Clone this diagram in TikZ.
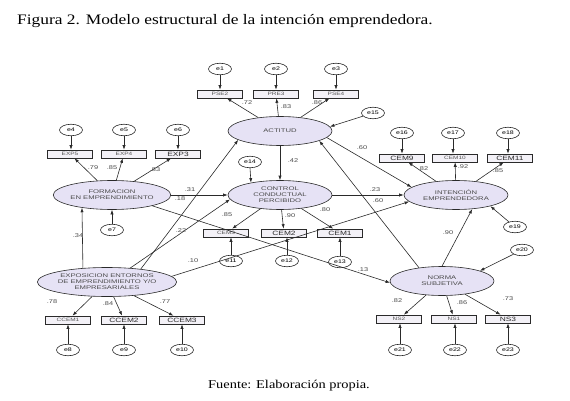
\documentclass[tikz,border=0pt]{standalone}
\usepackage{fontspec}
\setmainfont{Liberation Serif}
\newfontfamily\titlefont[FakeStretch=1.2]{Liberation Serif}
\newfontfamily\nodefont[FakeStretch=1.35]{Liberation Sans}
\newfontfamily\latfont[FakeStretch=1.45]{Liberation Sans}
\usetikzlibrary{arrows.meta,shapes.geometric}
\definecolor{latfill}{HTML}{E6E2F5}
\definecolor{boxfill}{HTML}{F3F1F7}
\definecolor{ink}{HTML}{2A2A2A}
\begin{document}
\begin{tikzpicture}[x=1pt,y=-1pt,
 lat/.style={ellipse, draw=ink, fill=latfill, line width=0.6pt, minimum width=104pt, minimum height=29pt, inner sep=0pt, align=center, font=\latfont\fontsize{5.3}{6}\selectfont, text=ink!85},
 ind/.style={rectangle, draw=ink, fill=boxfill, line width=0.6pt, minimum width=45pt, minimum height=8pt, inner sep=0pt, font=\nodefont\fontsize{4.8}{5}\selectfont, text=ink!80},
 indbig/.style={ind, font=\nodefont\fontsize{6.2}{6.5}\selectfont, text=ink},
 err/.style={ellipse, draw=ink, fill=white, line width=0.6pt, minimum width=23pt, minimum height=11.5pt, inner sep=0pt, font=\nodefont\fontsize{5.2}{5.2}\selectfont},
 lbl/.style={font=\nodefont\fontsize{5.5}{5.5}\selectfont, text=ink!85, inner sep=0pt},
 arr/.style={-{Latex[length=4.5pt,width=3.2pt]}, draw=ink, line width=0.6pt},
]
\path[use as bounding box] (0,0) rectangle (570,401);
% titles
\node[anchor=base west, font=\titlefont\fontsize{14.5}{16}\selectfont, inner sep=0pt] (title) at (17,25) {Figura 2. Modelo estructural de la intención emprendedora.};
\node[anchor=base west, font=\titlefont\fontsize{12}{14}\selectfont, inner sep=0pt] (fuente) at (208,388) {Fuente: Elaboración propia.};

% latent variables
\node[lat] (act) at (280,131) {ACTITUD};
\node[lat] (form) at (112,195) {FORMACION\\EN EMPRENDIMIENTO};
\node[lat] (ctrl) at (280,195) {CONTROL\\CONDUCTUAL\\PERCIBIDO};
\node[lat] (int) at (456,195) {INTENCIÓN\\EMPRENDEDORA};
\node[lat] (norma) at (442,281) {NORMA\\SUBJETIVA};
\node[lat, minimum width=120pt] (expo) at (107,282) {EXPOSICION ENTORNOS\\DE EMPRENDIMIENTO Y/O\\EMPRESARIALES};

% indicators
\node[ind] (pse2) at (220,94) {PSE2};
\node[ind] (pre3) at (276,94) {PRE3};
\node[ind] (pse4) at (336,94) {PSE4};
\node[ind] (exp5) at (70,154) {EXP5};
\node[ind] (exp4) at (124,154) {EXP4};
\node[indbig] (exp3) at (178,154) {EXP3};
\node[ind] (cem3) at (226,233) {CEM3};
\node[indbig] (cem2) at (284,233) {CEM2};
\node[indbig] (cem1) at (340,233) {CEM1};
\node[indbig] (cem9) at (402,158) {CEM9};
\node[ind] (cem10) at (455,158) {CEM10};
\node[indbig] (cem11) at (510,158) {CEM11};
\node[ind] (ns2) at (399,319) {NS2};
\node[ind] (ns1) at (454,319) {NS1};
\node[indbig] (ns3) at (508,319) {NS3};
\node[ind] (ccem1) at (68,320) {CCEM1};
\node[indbig] (ccem2) at (124,320) {CCEM2};
\node[indbig] (ccem3) at (182,320) {CCEM3};

% errors
\node[err] (e1) at (220,69) {e1};
\node[err] (e2) at (276,69) {e2};
\node[err] (e3) at (336,69) {e3};
\node[err] (e4) at (71,130) {e4};
\node[err] (e5) at (124,130) {e5};
\node[err] (e6) at (178,130) {e6};
\node[err] (e7) at (112,230) {e7};
\node[err] (e8) at (68,350) {e8};
\node[err] (e9) at (124,350) {e9};
\node[err] (e10) at (182,350) {e10};
\node[err] (e11) at (231,261) {e11};
\node[err] (e12) at (287,261) {e12};
\node[err] (e13) at (340,262) {e13};
\node[err] (e14) at (250,162) {e14};
\node[err] (e15) at (373,113) {e15};
\node[err] (e16) at (402,133) {e16};
\node[err] (e17) at (453,133) {e17};
\node[err] (e18) at (508,133) {e18};
\node[err] (e19) at (515,227) {e19};
\node[err] (e20) at (522,250) {e20};
\node[err] (e21) at (400,350) {e21};
\node[err] (e22) at (455,350) {e22};
\node[err] (e23) at (508,350) {e23};

% error -> indicator
\foreach \e/\b in {e1/pse2,e2/pre3,e3/pse4,e4/exp5,e5/exp4,e6/exp3,e16/cem9,e17/cem10,e18/cem11}
  \draw[arr] (\e.south) -- (\e.south |- \b.north);
\foreach \e/\b in {e8/ccem1,e9/ccem2,e10/ccem3,e11/cem3,e12/cem2,e13/cem1,e21/ns2,e22/ns1,e23/ns3}
  \draw[arr] (\e.north) -- (\e.north |- \b.south);

% latent -> indicator
\foreach \l/\b in {act/pse2,act/pre3,act/pse4,form/exp5,form/exp4,form/exp3,ctrl/cem3,ctrl/cem2,ctrl/cem1,int/cem9,int/cem10,int/cem11,norma/ns2,norma/ns1,norma/ns3,expo/ccem1,expo/ccem2,expo/ccem3}
  \draw[arr] (\l) -- (\b);

% disturbances
\draw[arr] (e15) -- (act.5);
\draw[arr] (e14.south) -- (ctrl.157.5);
\draw[arr] (e7.north) -- (form.south);
\draw[arr] (e19) -- (int.-18);
\draw[arr] (e20) -- (norma.15);

% structural paths
\draw[arr] (expo.150) -- (form.203);
\draw[arr] (expo.31) -- (ctrl.185);
\draw[arr] (expo.21) -- (act.192);
\draw[arr] (expo.5.5) -- (int.188);
\draw[arr] (form.east) -- (ctrl.west);
\draw[arr] (form.-15) -- (norma.182);
\draw[arr] (act.south) -- (ctrl.north);
\draw[arr] (act.-8) -- (int.170);
\draw[arr] (ctrl.east) -- (int.west);
\draw[arr] (norma.150) -- (act.-14);
\draw[arr] (norma.north) -- (int.-41);

% coefficients
\node[lbl] (l1) at (247,103) {.72};
\node[lbl] (l2) at (286,107) {.83};
\node[lbl] (l3) at (317,103) {.86};
\node[lbl] (l4) at (362,148) {.60};
\node[lbl] (l5) at (293,161) {.42};
\node[lbl] (l6) at (93,168) {.79};
\node[lbl] (l7) at (112,168) {.85};
\node[lbl] (l8) at (155,170) {.83};
\node[lbl] (l9) at (190,190) {.31};
\node[lbl] (l10) at (180,199) {.18};
\node[lbl] (l11) at (78,236) {.34};
\node[lbl] (l12) at (181,231) {.22};
\node[lbl] (l13) at (193,261) {.10};
\node[lbl] (l14) at (227,215) {.85};
\node[lbl] (l15) at (290,216) {.90};
\node[lbl] (l16) at (325,210) {.80};
\node[lbl] (l17) at (375,190) {.23};
\node[lbl] (l18) at (378,201) {.60};
\node[lbl] (l19) at (363,270) {.13};
\node[lbl] (l20) at (423,169) {.82};
\node[lbl] (l21) at (463,167) {.92};
\node[lbl] (l22) at (498,171) {.85};
\node[lbl] (l23) at (448,233) {.90};
\node[lbl] (l24) at (52,302) {.78};
\node[lbl] (l25) at (108,304) {.84};
\node[lbl] (l26) at (165,302) {.77};
\node[lbl] (l27) at (397,301) {.82};
\node[lbl] (l28) at (462,303) {.86};
\node[lbl] (l29) at (508,299) {.73};
\end{tikzpicture}
\end{document}
